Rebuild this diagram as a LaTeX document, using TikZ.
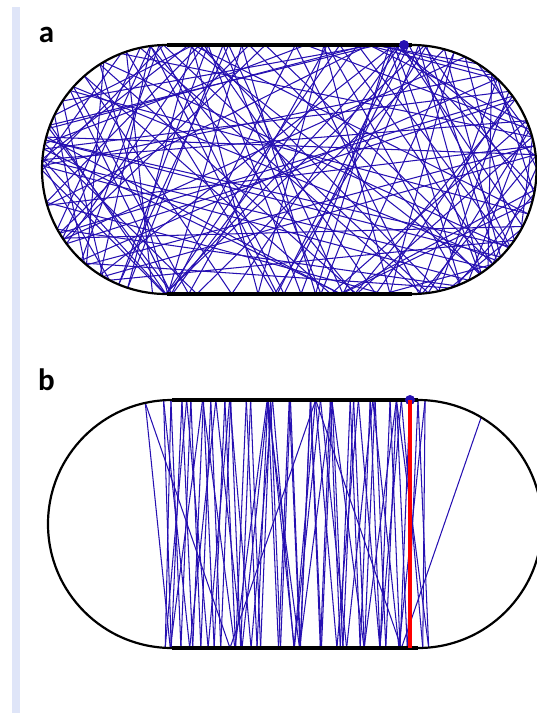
\documentclass[tikz,border=0pt]{standalone}
\usepackage{fontspec}
\setsansfont{Carlito}
\definecolor{orbit}{RGB}{38,16,178}
\definecolor{sidebar}{RGB}{223,229,248}

% billiard path in a stadium:
% #1,#2 centre, #3 half flat length, #4 radius, #5,#6 start, #7 angle, #8 bounces
\newcommand{\stadiumorbit}[8]{%
  \xdef\orbPx{#5}\xdef\orbPy{#6}%
  \xdef\orbUx{\fpeval{cosd(#7)}}\xdef\orbUy{\fpeval{sind(#7)}}%
  \foreach \k in {1,...,#8}{%
    % flat walls
    \edef\orbTa{\fpeval{(\orbUy)<0 ? (-(#4)-(\orbPy))/(\orbUy) : 1e9}}%
    \edef\orbTa{\fpeval{(abs((\orbPx)+(\orbTa)*(\orbUx))<=#3+1e-6 && (\orbTa)>1e-6) ? (\orbTa) : 1e9}}%
    \edef\orbTb{\fpeval{(\orbUy)>0 ? ((#4)-(\orbPy))/(\orbUy) : 1e9}}%
    \edef\orbTb{\fpeval{(abs((\orbPx)+(\orbTb)*(\orbUx))<=#3+1e-6 && (\orbTb)>1e-6) ? (\orbTb) : 1e9}}%
    % right arc
    \edef\orbB{\fpeval{((\orbPx)-(#3))*(\orbUx)+(\orbPy)*(\orbUy)}}%
    \edef\orbC{\fpeval{((\orbPx)-(#3))^2+(\orbPy)^2-(#4)^2}}%
    \edef\orbTc{\fpeval{((\orbB)^2-(\orbC))>=0 ? -(\orbB)+sqrt(max((\orbB)^2-(\orbC),0)) : 1e9}}%
    \edef\orbTc{\fpeval{((\orbPx)+(\orbTc)*(\orbUx)>=(#3)-1e-6 && (\orbTc)>1e-6) ? (\orbTc) : 1e9}}%
    % left arc
    \edef\orbB{\fpeval{((\orbPx)+(#3))*(\orbUx)+(\orbPy)*(\orbUy)}}%
    \edef\orbC{\fpeval{((\orbPx)+(#3))^2+(\orbPy)^2-(#4)^2}}%
    \edef\orbTd{\fpeval{((\orbB)^2-(\orbC))>=0 ? -(\orbB)+sqrt(max((\orbB)^2-(\orbC),0)) : 1e9}}%
    \edef\orbTd{\fpeval{((\orbPx)+(\orbTd)*(\orbUx)<=-(#3)+1e-6 && (\orbTd)>1e-6) ? (\orbTd) : 1e9}}%
    \edef\orbT{\fpeval{min(\orbTa,\orbTb,\orbTc,\orbTd)}}%
    \edef\orbHx{\fpeval{(\orbPx)+(\orbT)*(\orbUx)}}%
    \edef\orbHy{\fpeval{(\orbPy)+(\orbT)*(\orbUy)}}%
    \def\orbNx{0}\def\orbNy{1}%
    \ifnum\fpeval{(\orbT)==(\orbTa)}=1 \def\orbNx{0}\def\orbNy{-1}\fi
    \ifnum\fpeval{(\orbT)==(\orbTc)}=1 \edef\orbNx{\fpeval{((\orbHx)-(#3))/(#4)}}\edef\orbNy{\fpeval{(\orbHy)/(#4)}}\fi
    \ifnum\fpeval{(\orbT)==(\orbTd)}=1 \edef\orbNx{\fpeval{((\orbHx)+(#3))/(#4)}}\edef\orbNy{\fpeval{(\orbHy)/(#4)}}\fi
    \edef\orbD{\fpeval{(\orbUx)*(\orbNx)+(\orbUy)*(\orbNy)}}%
    \edef\orbXa{\fpeval{round((#1)+(\orbPx),3)}}\edef\orbYa{\fpeval{round((#2)+(\orbPy),3)}}%
    \edef\orbXb{\fpeval{round((#1)+(\orbHx),3)}}\edef\orbYb{\fpeval{round((#2)+(\orbHy),3)}}%
    \edef\orbOk{\fpeval{(\orbT)<1e8 ? 1 : 0}}%
    \edef\orbVx{\fpeval{(\orbUx)-2*(\orbD)*(\orbNx)}}%
    \edef\orbVy{\fpeval{(\orbUy)-2*(\orbD)*(\orbNy)}}%
    \xdef\orbUx{\fpeval{(\orbVx)/sqrt((\orbVx)^2+(\orbVy)^2)}}%
    \xdef\orbUy{\fpeval{(\orbVy)/sqrt((\orbVx)^2+(\orbVy)^2)}}%
    \xdef\orbPx{\orbHx}\xdef\orbPy{\orbHy}%
    \ifnum\orbOk=1 \draw[orbitline] (\orbXa,\orbYa) -- (\orbXb,\orbYb);\fi
  }%
}

\begin{document}
\begin{tikzpicture}[x=1pt, y=-1pt,
    orbitline/.style={orbit, line width=1.05pt},
    rim/.style={black, line width=2.2pt},
    flat/.style={black, line width=3.6pt},
    start/.style={circle, fill=orbit, inner sep=0pt, minimum size=10pt},
    tag/.style={font=\sffamily\bfseries\fontsize{31}{31}\selectfont, inner sep=0pt}
]
\useasboundingbox (0,0) rectangle (537,713);
\clip (0,0) rectangle (537,713);
\fill[sidebar] (12,7) rectangle (19.5,713);

% a: chaotic orbit
\node[tag] (taga) at (46.5,35) {a};
\stadiumorbit{289.25}{169.5}{122.75}{124.5}{114.75}{-124.5}{117}{140}
\draw[rim] (412,45) arc[start angle=-90, end angle=90, radius=124.5] -- (166.5,294)
  arc[start angle=90, end angle=270, radius=124.5] -- cycle;
\draw[flat] (166.5,45) -- (412,45);
\draw[flat] (166.5,294) -- (412,294);
\node[start] (dota) at (404,45) {};

% b: bouncing ball orbit
\node[tag] (tagb) at (46.5,380) {b};
\stadiumorbit{295}{524}{123}{124}{115}{-124}{92.3}{86}
\draw[rim] (418,400) arc[start angle=-90, end angle=90, radius=124] -- (172,648)
  arc[start angle=90, end angle=270, radius=124] -- cycle;
\draw[flat] (172,400) -- (418,400);
\draw[flat] (172,648) -- (418,648);
\node[start] (dotb) at (410,400) {};
\coordinate (footb) at (410,648);
\draw[red, line width=3.6pt] (dotb.center) -- (footb);
\end{tikzpicture}
\end{document}
